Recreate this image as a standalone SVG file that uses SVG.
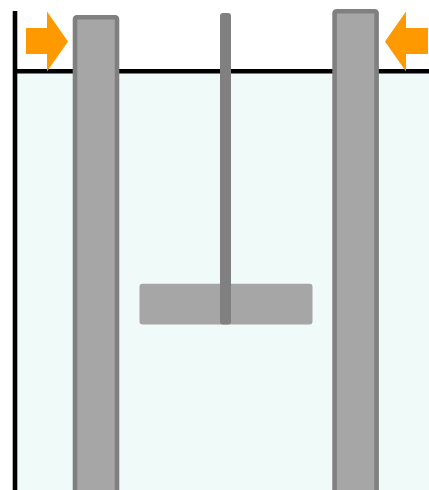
<svg xmlns="http://www.w3.org/2000/svg" width="429" height="490" viewBox="0 0 429 490">
<style>
.wall{fill:none;stroke:#000;stroke-width:4.6}
.elec{fill:#a6a6a6;stroke:#808080;stroke-width:4.6}
.arrow{fill:#ff9900}
</style>
<rect width="429" height="490" fill="#fff"/>
<rect id="liquid" x="15" y="71.2" width="414" height="418.8" fill="#f0faf9"/>
<g id="walls">
<path class="wall" d="M15 11V490"/>
<path class="wall" d="M15 71.2H429"/>
</g>
<g id="left-electrode"><path class="elec" d="M75 495V19.5Q75 17.3 77.2 17.3H114.8Q117 17.3 117 19.5V495Z"/></g>
<g id="right-electrode"><path class="elec" d="M334.6 495V13.5Q334.6 11.3 336.8 11.3H374.4Q376.6 11.3 376.6 13.5V495Z"/></g>
<g id="stirrer">
<rect x="139.5" y="283.7" width="173" height="40.8" rx="3" fill="#a6a6a6"/>
<rect x="220" y="13" width="11" height="311.5" rx="3" fill="#808080"/>
</g>
<g id="left-arrow"><polygon class="arrow" points="26,28 47,28 47,11.5 68,41.5 47,71.5 47,54 26,54"/></g>
<g id="right-arrow"><polygon class="arrow" points="428,28 406,28 406,11.5 385,41.5 406,71.5 406,54 428,54"/></g>
</svg>
